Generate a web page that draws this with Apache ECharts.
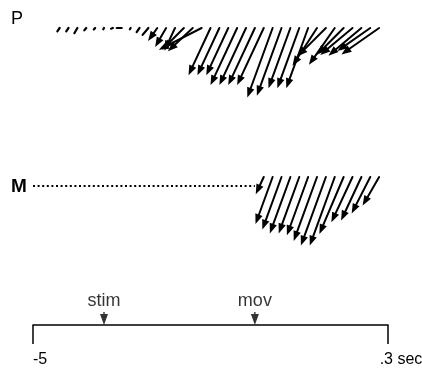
<!DOCTYPE html>
<html>
<head>
<meta charset="utf-8">
<script src="https://cdn.jsdelivr.net/npm/echarts@6/dist/echarts.min.js"></script>
<style>
  html, body { margin: 0; padding: 0; background: #fff; }
  #chart { width: 422px; height: 370px; }
</style>
</head>
<body>
<div id="chart"></div>
<script>
// Population vectors, one every 20 ms (time in s relative to movement onset)
const pTimes = [-0.44, -0.42, -0.40, -0.38, -0.36, -0.34, -0.32, -0.30, -0.28, -0.26,
                -0.24, -0.22, -0.20, -0.18, -0.16, -0.14, -0.12, -0.10, -0.08, -0.06,
                -0.04, -0.02, 0.00, 0.02, 0.04, 0.06, 0.08, 0.10, 0.12, 0.14,
                0.16, 0.18, 0.20, 0.22, 0.24, 0.26, 0.28];
const pMagnitude = [4, 4, 6, 3, 2, 1.5, 2, 5, 1.5, 5,
                    9, 16, 22, 25, 30, 34, 48, 52, 52, 52,
                    63, 63, 63, 63, 74, 72, 64, 64, 64, 45,
                    40, 45, 38, 42, 43, 40, 46];
const pDirection = [235, 235, 240, 230, 230, 240, 200, 180, 240, 235,
                    230, 235, 240, 245, 225, 223, 207, 245, 245, 245,
                    245, 245, 245, 245, 250, 250, 250, 250, 250, 237,
                    225, 235, 225, 220, 220, 215, 215];

const mTimes = [0.02, 0.04, 0.06, 0.08, 0.10, 0.12, 0.14, 0.16, 0.18, 0.20, 0.22, 0.24, 0.26, 0.28];
const mMagnitude = [19, 50, 56, 60, 60, 62, 68, 73, 73, 62, 50, 48, 41, 33];
const mDirection = [245, 250, 250, 250, 250, 250, 250, 250, 250, 247, 245, 245, 243, 240];

// M is silent before movement onset: drawn as a dotted trace
const mQuietSpan = [-0.5, 0.0];

const eventNames = ['stim', 'mov'];
const eventTimes = [-0.34, 0.0];

const timeTicks = [-0.5, 0.3];
const timeTickLabels = ['-5', '.3 sec'];

const FONT = 'Liberation Sans, Arial, Helvetica, sans-serif';

function zipVectors(times, mags, dirs) {
  return times.map((t, i) => [t, mags[i], dirs[i]]);
}

// Each vector starts on the row baseline at its time and points along its
// direction (degrees, counter-clockwise from +x); its length uses the row's y scale.
function renderVector(params, api) {
  const t = api.value(0), mag = api.value(1), dir = api.value(2);
  const tail = api.coord([t, 0]);
  const k = api.size([0, 1])[1];
  const L = mag * k;
  const a = dir * Math.PI / 180;
  const ux = Math.cos(a), uy = -Math.sin(a);
  const hx = tail[0] + ux * L, hy = tail[1] + uy * L;
  const children = [];
  const headLen = 10, headW = 3.8;
  if (L > 14) {
    const bx = hx - ux * headLen, by = hy - uy * headLen;
    children.push({
      type: 'line',
      shape: { x1: tail[0], y1: tail[1], x2: bx + ux * 2, y2: by + uy * 2 },
      style: { stroke: '#000', lineWidth: 2, lineCap: 'round' }
    });
    children.push({
      type: 'polygon',
      shape: { points: [[hx, hy], [bx - uy * headW, by + ux * headW], [bx + uy * headW, by - ux * headW]] },
      style: { fill: '#000' }
    });
  } else {
    children.push({
      type: 'line',
      shape: { x1: tail[0], y1: tail[1], x2: hx, y2: hy },
      style: { stroke: '#000', lineWidth: 2.2, lineCap: 'round' }
    });
  }
  return { type: 'group', children };
}

const gridLeft = 33, gridWidth = 355;
const gridBase = { left: gridLeft, width: gridWidth, containLabel: false, outerBoundsMode: 'none' };
const hiddenX = (gi) => ({ gridIndex: gi, type: 'value', min: -0.5, max: 0.3, show: false });
const rowY = (gi) => ({ gridIndex: gi, type: 'value', min: -80, max: 0, show: false });

const chart = echarts.init(document.getElementById('chart'), null, { renderer: 'canvas' });

chart.setOption({
  animation: false,
  backgroundColor: '#fff',
  grid: [
    Object.assign({ top: 28, height: 80 }, gridBase),   // P vectors
    Object.assign({ top: 177, height: 80 }, gridBase),  // M vectors
    Object.assign({ top: 186, height: 10 }, gridBase),  // M quiet trace
    Object.assign({ top: 300, height: 25 }, gridBase)   // time axis
  ],
  xAxis: [
    hiddenX(0), hiddenX(1), hiddenX(2),
    {
      gridIndex: 3, type: 'value', min: -0.5, max: 0.3,
      position: 'bottom',
      axisLine: { show: true, lineStyle: { color: '#000', width: 1.5 } },
      axisTick: { show: true, customValues: timeTicks, length: 19, lineStyle: { color: '#000', width: 1.5 } },
      axisLabel: {
        show: true,
        customValues: timeTicks,
        margin: 27,
        color: '#000',
        fontFamily: FONT,
        fontSize: 16,
        formatter: (v) => {
          const i = timeTicks.findIndex(x => Math.abs(x - v) < 1e-9);
          const txt = i >= 0 ? timeTickLabels[i] : '';
          return i === timeTicks.length - 1 ? '{sp|}{t|' + txt + '}' : '{s|}{t|' + txt + '}';
        },
        rich: {
          sp: { width: 26 },
          s: { width: 0 },
          t: { fontSize: 16, fontFamily: FONT, color: '#000' }
        },
        alignMinLabel: 'left'
      },
      splitLine: { show: false }
    }
  ],
  yAxis: [
    rowY(0), rowY(1),
    { gridIndex: 2, type: 'value', min: -1, max: 0, show: false },
    { gridIndex: 3, type: 'value', min: 0, max: 1, show: false }
  ],
  graphic: [
    { type: 'text', left: 11, top: 10, style: { text: 'P', font: '18px ' + FONT, fill: '#000' } },
    { type: 'text', left: 11, top: 177, style: { text: 'M', font: 'bold 19px ' + FONT, fill: '#000' } }
  ],
  series: [
    {
      type: 'custom', name: 'P', xAxisIndex: 0, yAxisIndex: 0,
      renderItem: renderVector,
      data: zipVectors(pTimes, pMagnitude, pDirection),
      clip: false
    },
    {
      type: 'custom', name: 'M', xAxisIndex: 1, yAxisIndex: 1,
      renderItem: renderVector,
      data: zipVectors(mTimes, mMagnitude, mDirection),
      clip: false
    },
    {
      type: 'line', name: 'M quiet', xAxisIndex: 2, yAxisIndex: 2,
      data: mQuietSpan.map(t => [t, 0]),
      symbol: 'none',
      lineStyle: { color: '#000', width: 2, type: [2, 2.6] }
    },
    {
      type: 'scatter', name: 'events', xAxisIndex: 3, yAxisIndex: 3,
      data: eventTimes.map((t, i) => ({ value: [t, 0], name: eventNames[i] })),
      symbol: 'path://M3.3,0 L4.7,0 L4.7,2 L8,2 L4,13 L0,2 L3.3,2 Z',
      symbolSize: [8, 13],
      symbolOffset: [0, -6.5],
      itemStyle: { color: '#000' },
      label: {
        show: true, position: 'top', distance: 2,
        formatter: (p) => p.name,
        color: '#000', fontFamily: FONT, fontSize: 18
      }
    }
  ]
});
</script>
</body>
</html>
